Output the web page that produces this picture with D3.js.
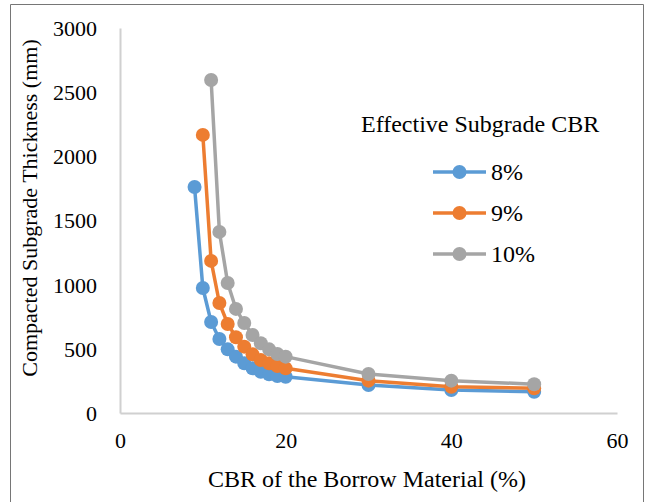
<!DOCTYPE html>
<html>
<head>
<meta charset="utf-8">
<script src="https://cdn.jsdelivr.net/npm/d3@7/dist/d3.min.js"></script>
<style>
  html, body { margin: 0; padding: 0; background: #fff; }
  svg { display: block; }
  text { font-family: "Liberation Serif", "Times New Roman", serif; fill: #000; }
</style>
</head>
<body>
<svg id="chart" width="649" height="502"></svg>
<script>
// Borrow material CBR (%) for each curve
const cbr8 = [9, 10, 11, 12, 13, 14, 15, 16, 17, 18, 19, 20, 30, 40, 50];
const cbr9 = [10, 11, 12, 13, 14, 15, 16, 17, 18, 19, 20, 30, 40, 50];
const cbr10 = [11, 12, 13, 14, 15, 16, 17, 18, 19, 20, 30, 40, 50];

// Compacted subgrade thickness (mm)
const thick8 = [1761, 974, 709, 577, 496, 439, 387, 348, 322, 302, 288, 282, 218, 179, 166];
const thick9 = [2167, 1185, 857, 694, 590, 517, 457, 413, 387, 366, 348, 252, 205, 192];
const thick10 = [2595, 1411, 1013, 811, 701, 608, 543, 496, 460, 439, 304, 252, 224];

const seriesNames = ["8%", "9%", "10%"];
const seriesColors = ["#5b9bd5", "#ed7d31", "#a5a5a5"];

const xTicks = [0, 20, 40, 60];
const yTicks = [0, 500, 1000, 1500, 2000, 2500, 3000];

const xTitle = "CBR of the Borrow Material (%)";
const yTitle = "Compacted Subgrade Thickness (mm)";
const legendTitle = "Effective Subgrade CBR";

const series = [
  { name: seriesNames[0], color: seriesColors[0], pts: cbr8.map((x, i) => [x, thick8[i]]) },
  { name: seriesNames[1], color: seriesColors[1], pts: cbr9.map((x, i) => [x, thick9[i]]) },
  { name: seriesNames[2], color: seriesColors[2], pts: cbr10.map((x, i) => [x, thick10[i]]) }
];

const svg = d3.select("#chart");

// Outer chart frame
svg.append("path")
  .attr("d", "M10.5,502 V4.5 H643.5 V502")
  .attr("fill", "none")
  .attr("stroke", "#767676")
  .attr("stroke-width", 1);

const plot = { left: 120, right: 617, top: 28, bottom: 413 };

const x = d3.scaleLinear().domain([0, 60]).range([plot.left, plot.right]);
const y = d3.scaleLinear().domain([0, 3000]).range([plot.bottom, plot.top]);

// Axes: plain light-grey lines, no tick marks
const xAxis = svg.append("g")
  .attr("transform", `translate(0,${plot.bottom})`)
  .call(d3.axisBottom(x).tickValues(xTicks).tickSize(0).tickPadding(19).tickFormat(d3.format("d")));
const yAxis = svg.append("g")
  .attr("transform", `translate(${plot.left},0)`)
  .call(d3.axisLeft(y).tickValues(yTicks).tickSize(0).tickPadding(23).tickFormat(d3.format("d")));

[xAxis, yAxis].forEach(g => {
  g.select(".domain").attr("stroke", "#d0d0d0").attr("stroke-width", 2);
  g.selectAll("text")
    .style("font-family", "'Liberation Serif', 'Times New Roman', serif")
    .style("font-size", "22px")
    .attr("fill", "#000");
});
yAxis.selectAll("text").attr("dy", "0.34em");
xAxis.selectAll("text").attr("dy", "0.71em");

// Axis titles
svg.append("text")
  .attr("x", 367)
  .attr("y", 487)
  .attr("text-anchor", "middle")
  .style("font-size", "24px")
  .text(xTitle);

svg.append("text")
  .attr("transform", "translate(37,208) rotate(-90)")
  .attr("text-anchor", "middle")
  .style("font-size", "22px")
  .text(yTitle);

// Curves with circular markers
const line = d3.line().x(d => x(d[0])).y(d => y(d[1]));

series.forEach(s => {
  const g = svg.append("g");
  g.append("path")
    .datum(s.pts)
    .attr("d", line)
    .attr("fill", "none")
    .attr("stroke", s.color)
    .attr("stroke-width", 3.5)
    .attr("stroke-linejoin", "round");
  g.selectAll("circle")
    .data(s.pts)
    .join("circle")
    .attr("cx", d => x(d[0]))
    .attr("cy", d => y(d[1]))
    .attr("r", 7)
    .attr("fill", s.color);
});

// Legend
svg.append("text")
  .attr("x", 361)
  .attr("y", 131.5)
  .style("font-size", "24px")
  .text(legendTitle);

const legend = svg.append("g");
series.forEach((s, i) => {
  const cy = 172 + i * 41;
  legend.append("line")
    .attr("x1", 433).attr("x2", 486)
    .attr("y1", cy).attr("y2", cy)
    .attr("stroke", s.color)
    .attr("stroke-width", 3.5);
  legend.append("circle")
    .attr("cx", 459.5).attr("cy", cy)
    .attr("r", 7)
    .attr("fill", s.color);
  legend.append("text")
    .attr("x", 491)
    .attr("y", cy + 8)
    .style("font-size", "24px")
    .text(s.name);
});
</script>
</body>
</html>
